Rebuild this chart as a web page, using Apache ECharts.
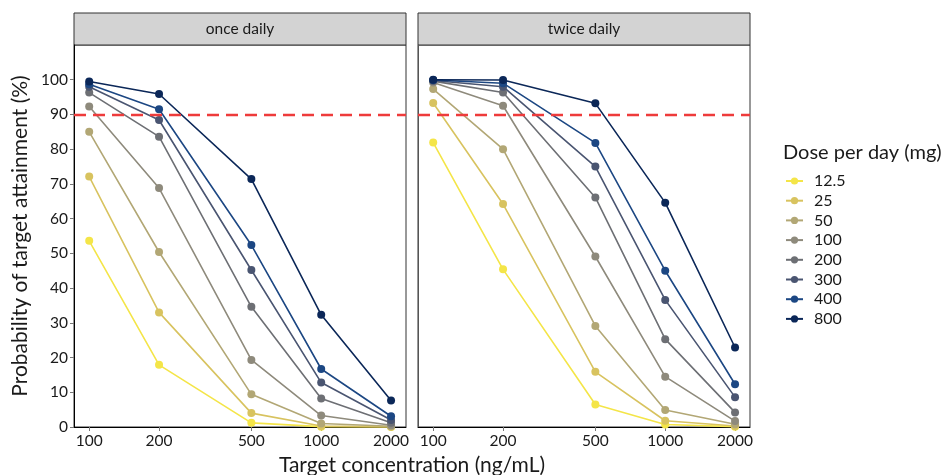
<!DOCTYPE html>
<html>
<head>
<meta charset="utf-8">
<script src="https://cdn.jsdelivr.net/npm/echarts@6/dist/echarts.min.js"></script>
<style>
  html, body { margin: 0; padding: 0; background: #fff; }
  #chart { width: 950px; height: 475px; }
</style>
</head>
<body>
<div id="chart"></div>
<script>
// target concentrations (ng/mL) on the x axis
const concentrations = [100, 200, 500, 1000, 2000]
const yTicks = [0, 10, 20, 30, 40, 50, 60, 70, 80, 90, 100]
const doses = ['12.5', '25', '50', '100', '200', '300', '400', '800']
const panels = ['once daily', 'twice daily']

// probability of target attainment (%), one row per dose
const onceDaily = [
  [53.6, 17.9, 1.2, 0.1, 0.0],
  [72.1, 33.0, 4.0, 0.3, 0.05],
  [85.0, 50.4, 9.4, 1.0, 0.2],
  [92.3, 68.8, 19.3, 3.3, 0.5],
  [96.3, 83.6, 34.6, 8.2, 1.2],
  [98.0, 88.4, 45.2, 12.8, 2.0],
  [98.7, 91.5, 52.4, 16.7, 3.1],
  [99.5, 95.9, 71.4, 32.3, 7.6]
]
const twiceDaily = [
  [81.9, 45.4, 6.5, 0.7, 0.1],
  [93.3, 64.2, 15.9, 1.8, 0.3],
  [97.3, 80.0, 29.1, 4.9, 0.8],
  [99.2, 92.5, 49.1, 14.5, 1.7],
  [99.6, 96.3, 66.1, 25.3, 4.2],
  [99.8, 98.0, 75.0, 36.6, 8.6],
  [99.9, 99.0, 81.8, 45.0, 12.3],
  [100.0, 99.9, 93.2, 64.6, 22.9]
]
const target = 90

const colors = ['#F4E548', '#D8C35F', '#B2A775', '#8E8A7C', '#6D6F74', '#4A5571', '#1C4783', '#0B2758']

const fontFamily = 'Lato, "Open Sans", sans-serif'
const gridLefts = [74, 418]
const gridWidth = 332
const gridTop = 45
const gridHeight = 382

let grids = []
let xAxes = []
let yAxes = []
let series = []
let graphics = []

panels.forEach((p, i) => {
  grids.push({
    left: gridLefts[i],
    top: gridTop,
    width: gridWidth,
    height: gridHeight,
    show: true,
    borderColor: '#333',
    borderWidth: 1,
    backgroundColor: '#fff'
  })
  xAxes.push({
    type: 'log',
    logBase: 10,
    gridIndex: i,
    min: 86,
    max: 2320,
    axisLine: { show: true, lineStyle: { color: '#000', width: 1 } },
    axisTick: { show: true, length: 4, lineStyle: { color: '#777' }, customValues: concentrations },
    axisLabel: {
      customValues: concentrations,
      formatter: v => String(Math.round(v)),
      color: '#1a1a1a',
      fontSize: 15.5,
      fontFamily: fontFamily,
      margin: 6
    },
    splitLine: { show: false },
    minorTick: { show: false }
  })
  yAxes.push({
    type: 'value',
    gridIndex: i,
    min: 0,
    max: 110,
    axisLine: { show: true, lineStyle: { color: i === 0 ? '#000' : '#555', width: 1 } },
    axisTick: { show: i === 0, length: 4, lineStyle: { color: '#777' }, customValues: yTicks },
    axisLabel: {
      show: i === 0,
      customValues: yTicks,
      color: '#1a1a1a',
      fontSize: 15.5,
      fontFamily: fontFamily,
      margin: 6
    },
    splitLine: { show: false },
    name: i === 0 ? 'Probability of target attainment (%)' : '',
    nameLocation: 'middle',
    nameGap: 43,
    nameTextStyle: { fontSize: 21, color: '#1a1a1a', fontFamily: fontFamily }
  })

  let rows = i === 0 ? onceDaily : twiceDaily
  rows.forEach((vals, d) => {
    let s = {
      name: doses[d],
      type: 'line',
      xAxisIndex: i,
      yAxisIndex: i,
      data: concentrations.map((c, k) => [c, vals[k]]),
      symbol: 'circle',
      symbolSize: 8,
      itemStyle: { color: colors[d] },
      lineStyle: { width: 1.6, color: colors[d] },
      z: 2 + d
    }
    if (d === rows.length - 1) {
      s.markLine = {
        silent: true,
        symbol: 'none',
        label: { show: false },
        lineStyle: { color: '#EE3B3B', type: [12, 7], width: 2.4 },
        data: [{ yAxis: target }],
        z: 20
      }
    }
    series.push(s)
  })

  // facet strip
  graphics.push({
    type: 'rect',
    shape: { x: gridLefts[i], y: 13, width: gridWidth, height: 32 },
    style: { fill: '#D3D3D3', stroke: '#333', lineWidth: 1 }
  })
  graphics.push({
    type: 'text',
    x: gridLefts[i] + gridWidth / 2,
    y: 29,
    style: {
      text: p,
      fontSize: 15.5,
      fontFamily: fontFamily,
      fill: '#1a1a1a',
      textAlign: 'center',
      textVerticalAlign: 'middle'
    }
  })
})

graphics.push({
  type: 'text',
  x: 412,
  y: 465,
  style: {
    text: 'Target concentration (ng/mL)',
    fontSize: 21,
    fontFamily: fontFamily,
    fill: '#1a1a1a',
    textAlign: 'center',
    textVerticalAlign: 'middle'
  }
})
graphics.push({
  type: 'text',
  x: 783,
  y: 153,
  style: {
    text: 'Dose per day (mg)',
    fontSize: 20,
    fontFamily: fontFamily,
    fill: '#1a1a1a',
    textAlign: 'left',
    textVerticalAlign: 'middle'
  }
})

let option = {
  animation: false,
  backgroundColor: '#fff',
  grid: grids,
  xAxis: xAxes,
  yAxis: yAxes,
  series: series,
  graphic: graphics,
  legend: {
    data: doses,
    orient: 'vertical',
    left: 780,
    top: 168,
    itemWidth: 17,
    itemHeight: 9,
    itemGap: 3.7,
    textStyle: { fontSize: 16, fontFamily: fontFamily, color: '#1a1a1a', lineHeight: 16, padding: [0, 0, 0, 6] }
  }
}

var myChart = echarts.init(document.getElementById('chart'))
myChart.setOption(option)
</script>
</body>
</html>
